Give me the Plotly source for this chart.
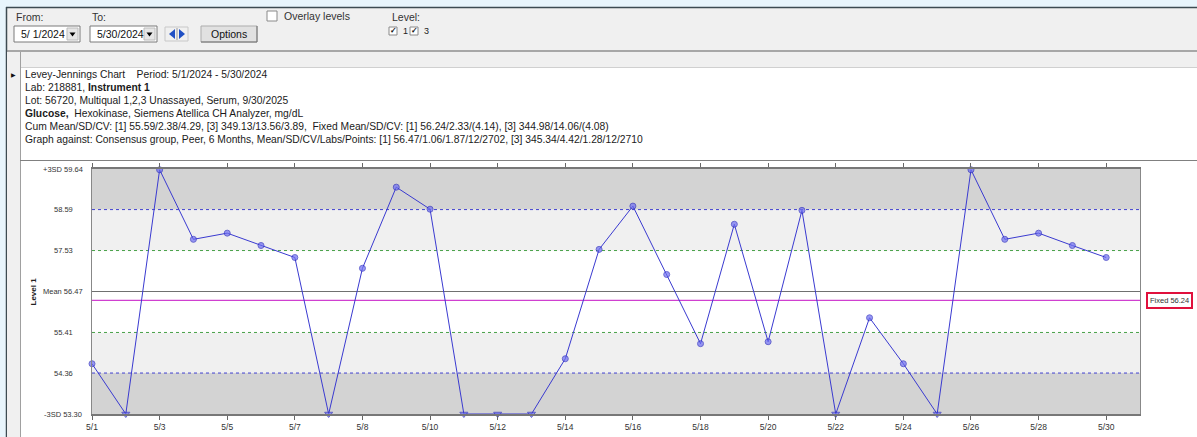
import numpy as np
import plotly.graph_objects as go

# ---------------- data ----------------
dates = ["5/1", "5/2", "5/3", "5/4", "5/5", "5/6", "5/7", "5/7", "5/8", "5/9",
         "5/10", "5/11", "5/12", "5/13", "5/14", "5/15", "5/16", "5/17", "5/18", "5/19",
         "5/20", "5/21", "5/22", "5/23", "5/24", "5/25", "5/26", "5/27", "5/28", "5/29", "5/30"]
values = [54.60, 52.90, 59.62, 57.82, 57.98, 57.66, 57.35, 52.90, 57.07, 59.17,
          58.60, 52.90, 52.90, 52.90, 54.73, 57.56, 58.68, 56.91, 55.12, 58.21,
          55.17, 58.57, 52.90, 55.79, 54.60, 52.90, 59.62, 57.82, 57.98, 57.66, 57.35]
tick_labels = dates[::2]
sd_levels = [53.30, 54.36, 55.41, 56.47, 57.53, 58.59, 59.64]
sd_labels = ["-3SD 53.30", "54.36", "55.41", "Mean 56.47", "57.53", "58.59", "+3SD 59.64"]
fixed_mean = 56.24

header_lines = [
    "Levey-Jennings Chart    Period: 5/1/2024 - 5/30/2024",
    "Lab: 218881, <b>Instrument 1</b>",
    "Lot: 56720, Multiqual 1,2,3 Unassayed, Serum, 9/30/2025",
    "<b>Glucose,</b>  Hexokinase, Siemens Atellica CH Analyzer, mg/dL",
    "Cum Mean/SD/CV: [1] 55.59/2.38/4.29, [3] 349.13/13.56/3.89,  Fixed Mean/SD/CV: [1] 56.24/2.33/(4.14), [3] 344.98/14.06/(4.08)",
    "Graph against: Consensus group, Peer, 6 Months, Mean/SD/CV/Labs/Points: [1] 56.47/1.06/1.87/12/2702, [3] 345.34/4.42/1.28/12/2710",
]

FONT = "Liberation Sans"
W_FIG, H_FIG = 1197, 437
L, R, T, B = 92, 1140, 169, 414


def px(x):
    return (x - L) / (R - L)


def py(y):
    return (B - y) / (B - T)


ymin, ymax = sd_levels[0], sd_levels[-1]
x_idx = list(range(len(values)))
v = np.array(values)
disp = np.clip(v, ymin, ymax)
symbols = ["triangle-down" if a < ymin else ("triangle-up" if a > ymax else "circle") for a in v]
sizes = [7 if s != "circle" else 6 for s in symbols]

fig = go.Figure()

shapes = []


def rect(x0, y0, x1, y1, fill, line=None, lw=1, layer="below"):
    shapes.append(dict(type="rect", xref="paper", yref="paper",
                       x0=px(x0), x1=px(x1), y0=py(y1), y1=py(y0),
                       fillcolor=fill, line=dict(color=line or fill, width=lw if line else 0),
                       layer=layer))


def hline_px(x0, x1, y, color, w=1):
    shapes.append(dict(type="line", xref="paper", yref="paper",
                       x0=px(x0), x1=px(x1), y0=py(y), y1=py(y),
                       line=dict(color=color, width=w), layer="below"))


def vline_px(x, y0, y1, color, w=1):
    shapes.append(dict(type="line", xref="paper", yref="paper",
                       x0=px(x), x1=px(x), y0=py(y0), y1=py(y1),
                       line=dict(color=color, width=w), layer="below"))


# ---- window chrome ----
rect(0, 0, W_FIG, 7, "#e8f5fc")
rect(0, 0, 6, H_FIG, "#e8f5fc")
rect(6, 8, W_FIG, 50, "#f0f0f0")
hline_px(6, W_FIG, 7.5, "#3d4b52", 1.5)
vline_px(6.5, 7, H_FIG, "#3d4b52", 1.5)
hline_px(7, W_FIG, 51, "#8a8a8a", 1.5)
rect(7, 52, W_FIG, 67, "#f0f0f0")
hline_px(7, W_FIG, 67.5, "#d0d0d0", 1)
rect(7, 52, 20, H_FIG, "#f0f0f0")
vline_px(20.5, 52, H_FIG, "#a0a0a0", 1)
hline_px(20, W_FIG, 160.5, "#808080", 1.2)

# combo boxes
for (x0, x1) in [(14, 80), (90, 157)]:
    rect(x0, 26, x1, 42, "white", "#7a7a7a", 1)
    rect(x1 - 13, 28, x1 - 2, 40, "#e6e6e6", "#bcbcbc", 1)
    shapes.append(dict(type="path", xref="paper", yref="paper",
                       path="M %f %f L %f %f L %f %f Z" % (px(x1 - 10.5), py(32.5), px(x1 - 4.5), py(32.5), px(x1 - 7.5), py(36.5)),
                       fillcolor="black", line=dict(width=0)))
# blue arrows
rect(165, 27, 188, 41, "#f0f0f0", "#c8c8c8", 1)
shapes.append(dict(type="path", xref="paper", yref="paper",
                   path="M %f %f L %f %f L %f %f Z" % (px(175), py(29), px(175), py(39), px(169), py(34)),
                   fillcolor="#1f4fc4", line=dict(width=0)))
shapes.append(dict(type="path", xref="paper", yref="paper",
                   path="M %f %f L %f %f L %f %f Z" % (px(179), py(29), px(179), py(39), px(185), py(34)),
                   fillcolor="#1f4fc4", line=dict(width=0)))
vline_px(177, 28, 40, "#9a9a9a", 1)
# options button
rect(201, 26, 257, 42, "#e1e1e1", "#adadad", 1)
hline_px(201, 257, 42, "#707070", 1)
vline_px(257, 26, 42, "#707070", 1)
# checkboxes
rect(267, 11, 277, 21, "white", "#8a8a8a", 1)
rect(389, 27, 397, 35, "white", "#8a8a8a", 1)
rect(410, 27, 418, 35, "white", "#8a8a8a", 1)

# ---- chart bands ----
band_fill = ["#d3d3d3", "#f0f0f0", "white", "white", "#f0f0f0", "#d3d3d3"]
for i in range(6):
    shapes.append(dict(type="rect", xref="x domain", yref="y", x0=0, x1=1,
                       y0=sd_levels[i], y1=sd_levels[i + 1], fillcolor=band_fill[i],
                       line=dict(width=0), layer="below"))
line_styles = {1: ("#4040d0", "dot"), 2: ("#48a048", "dot"), 3: ("#707070", "solid"),
               4: ("#48a048", "dot"), 5: ("#4040d0", "dot")}
for i, (c, d) in line_styles.items():
    shapes.append(dict(type="line", xref="x domain", yref="y", x0=0, x1=1,
                       y0=sd_levels[i], y1=sd_levels[i], line=dict(color=c, width=1.2 if d == "solid" else 1, dash=d),
                       layer="below"))
shapes.append(dict(type="line", xref="x domain", yref="y", x0=0, x1=1,
                   y0=fixed_mean, y1=fixed_mean, line=dict(color="#d040d0", width=1.2), layer="below"))

fig.add_trace(go.Scatter(
    x=x_idx, y=disp, mode="lines+markers", cliponaxis=False,
    line=dict(color="#3a3ad0", width=1),
    marker=dict(symbol=symbols, size=sizes, color="#6e6ef2", line=dict(color="#2e2ec0", width=1)),
    hovertext=[f"{d}: {val}" for d, val in zip(dates, values)], hoverinfo="text",
    showlegend=False,
))

# ---- annotations ----
ann = []


def text(x, y, s, size=9.5, color="#222", xanchor="left", bold=False):
    ann.append(dict(xref="paper", yref="paper", x=px(x), y=py(y), text=("<b>%s</b>" % s) if bold else s,
                    showarrow=False, xanchor=xanchor, yanchor="middle",
                    font=dict(family=FONT, size=size, color=color)))


text(14, 17, "From:", 10.5, "#333")
text(90, 17, "To:", 10.5, "#333")
text(19, 34, "5/ 1/2024", 10.5, "#111")
text(95, 34, "5/30/2024", 10.5, "#111")
text(229, 34, "Options", 10.5, "#111", "center")
text(282, 16, "Overlay levels", 10.5, "#333")
text(390, 17, "Level:", 10.5, "#333")
text(393, 31, "✓", 8, "#111", "center", True)
text(414, 31, "✓", 8, "#111", "center", True)
text(401, 31.5, "1", 9, "#222")
text(422, 31.5, "3", 9, "#222")
text(13.5, 75, "▶", 6, "#111", "center")

for i, s in enumerate(header_lines):
    text(23, 74 + i * 13.2, s, 10.3, "#1a1a1a")

for lvl, lab in zip(sd_levels, sd_labels):
    ann.append(dict(xref="paper", yref="y", x=px(63), y=lvl, text=lab, showarrow=False,
                    xanchor="center", yanchor="middle", font=dict(family=FONT, size=7.5, color="#333")))

ann.append(dict(xref="paper", yref="y", x=px(33), y=sd_levels[3], text="<b>Level 1</b>", textangle=-90,
                showarrow=False, xanchor="center", yanchor="middle",
                font=dict(family=FONT, size=8, color="#222")))

ann.append(dict(xref="paper", yref="y", x=px(1169), y=fixed_mean, text="Fixed 56.24", showarrow=False,
                xanchor="center", yanchor="middle", bgcolor="white", bordercolor="#e0103c", borderwidth=2,
                borderpad=2, font=dict(family=FONT, size=7.5, color="#333")))

fig.update_layout(
    width=W_FIG, height=H_FIG,
    margin=dict(l=L, r=W_FIG - R, t=T, b=H_FIG - B, pad=0, autoexpand=False),
    paper_bgcolor="white", plot_bgcolor="white",
    shapes=shapes, annotations=ann, showlegend=False,
    font=dict(family=FONT),
    xaxis=dict(range=[0, len(values)], tickmode="array", tickvals=x_idx[::2], ticktext=tick_labels,
               showgrid=False, zeroline=False, showline=True, linecolor="#777", linewidth=1.5,
               mirror="ticks", ticks="outside", ticklen=4, tickcolor="#666", tickwidth=1, automargin=False,
               tickfont=dict(family=FONT, size=8.5, color="#333")),
    yaxis=dict(range=[ymin, ymax], showgrid=False, zeroline=False, showline=True, linecolor="#888",
               linewidth=1, mirror=True, showticklabels=False, ticks="", automargin=False),
)

fig.write_html("out.html", config={"displayModeBar": False},
               post_script="document.body.style.margin='0px';document.body.style.overflow='hidden';")
